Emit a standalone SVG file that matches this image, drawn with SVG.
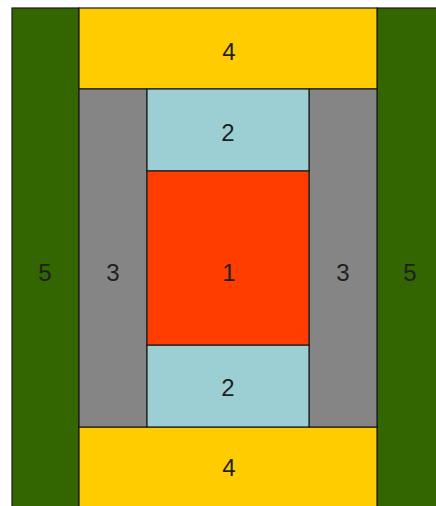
<svg xmlns="http://www.w3.org/2000/svg" width="436" height="506" viewBox="0 0 436 506">
<style>
rect{stroke:#1a1a1a;stroke-width:1.2}
.g5{fill:#336600}.y4{fill:#FFCC00}.g3{fill:#858585}.c2{fill:#9CCFD3}.r1{fill:#FF3D00}
text{font-family:"Liberation Sans",Arial,sans-serif;font-size:24px;fill:#1f1f1f;text-anchor:middle}
</style>
<rect x="0" y="0" width="436" height="506" fill="#ffffff" style="stroke:none"/>
<g id="n5-left"><rect class="g5" x="12" y="8" width="67" height="500"/><text x="45" y="281">5</text></g>
<g id="n5-right"><rect class="g5" x="377" y="8" width="62" height="500"/><text x="410" y="281">5</text></g>
<g id="n4-top"><rect class="y4" x="79" y="8" width="298" height="81"/><text x="229" y="60">4</text></g>
<g id="n4-bottom"><rect class="y4" x="79" y="427" width="298" height="81"/><text x="229" y="476">4</text></g>
<g id="n3-left"><rect class="g3" x="79" y="89" width="68" height="338"/><text x="113" y="281">3</text></g>
<g id="n3-right"><rect class="g3" x="309" y="89" width="68" height="338"/><text x="343" y="281">3</text></g>
<g id="n2-top"><rect class="c2" x="147" y="89" width="162" height="82"/><text x="228" y="141">2</text></g>
<g id="n2-bottom"><rect class="c2" x="147" y="345" width="162" height="82"/><text x="228" y="396">2</text></g>
<g id="n1"><rect class="r1" x="147" y="171" width="162" height="174"/><text x="229" y="281">1</text></g>
<g id="connectors"></g>
</svg>
